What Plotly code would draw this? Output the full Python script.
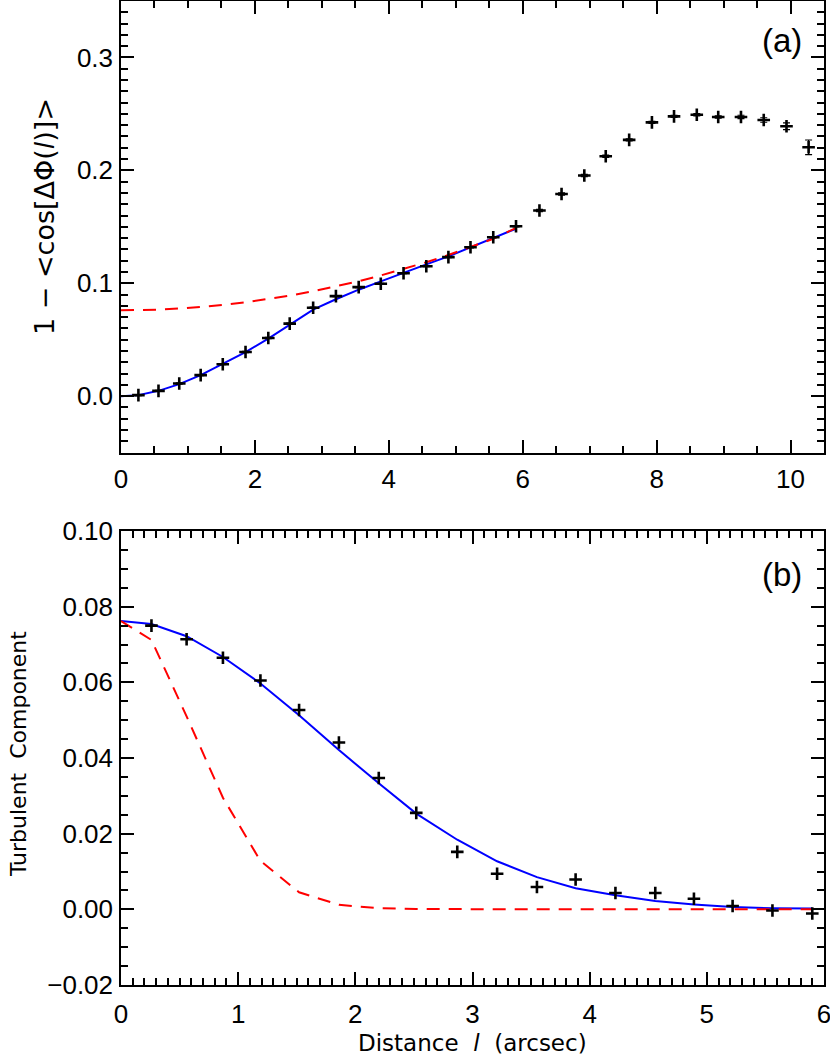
import plotly.graph_objects as go

# ---------------- data ----------------
# panel (a): structure function data points
x_a = [0.26, 0.56, 0.87, 1.19, 1.52, 1.86, 2.20, 2.52, 2.87, 3.21, 3.55, 3.88,
       4.22, 4.56, 4.89, 5.22, 5.56, 5.90, 6.25, 6.58, 6.92, 7.24, 7.59, 7.93,
       8.26, 8.60, 8.92, 9.26, 9.60, 9.94, 10.27]
y_a = [0.0009, 0.0047, 0.0112, 0.0186, 0.0283, 0.0391, 0.0515, 0.0642, 0.0783,
       0.0886, 0.0966, 0.0995, 0.1089, 0.1151, 0.1231, 0.1319, 0.1408, 0.1505,
       0.1645, 0.1790, 0.1954, 0.2125, 0.2270, 0.2425, 0.2478, 0.2493, 0.2473,
       0.2473, 0.2446, 0.2390, 0.2204]
err_a = [0.0005] * 18 + [0.001] * 9 + [0.0015, 0.002, 0.003, 0.0065]

# fit curves for panel (a)
fit_x = [0.0, 0.26, 0.56, 0.87, 1.19, 1.52, 1.86, 2.20, 2.52, 2.87, 3.21, 3.55,
         3.88, 4.22, 4.56, 4.89, 5.22, 5.56, 5.90]
blue_a = [0.0, 0.0009, 0.0047, 0.0106, 0.0186, 0.0283, 0.0390, 0.0510, 0.0634,
          0.0767, 0.0858, 0.0943, 0.1017, 0.1094, 0.1167, 0.1238, 0.1320, 0.1403,
          0.1483]
red_a = [0.0760, 0.0761, 0.0766, 0.0776, 0.0789, 0.0807, 0.0831, 0.0859, 0.0890,
         0.0929, 0.0971, 0.1018, 0.1069, 0.1125, 0.1186, 0.1250, 0.1319, 0.1394,
         0.1490]

# panel (b): turbulent component
x_b = x_a[:18]
y_b = [0.0750, 0.0714, 0.0665, 0.0605, 0.0527, 0.0441, 0.0347, 0.0255, 0.0152,
       0.0094, 0.0059, 0.0079, 0.0043, 0.0043, 0.0028, 0.0009, -0.0003, -0.0011]
blue_b = [0.0762, 0.0754, 0.0722, 0.0667, 0.0597, 0.0513, 0.0421, 0.0333, 0.0253,
          0.0184, 0.0127, 0.0085, 0.0056, 0.0037, 0.0022, 0.0013, 0.0006, 0.0003,
          0.0002]
red_b = [0.0762, 0.0712, 0.0510, 0.0295, 0.0128, 0.0045, 0.0012, 0.0003, 0.0001,
         0.0, 0.0, 0.0, 0.0, 0.0, 0.0, 0.0, 0.0, 0.0, 0.0]

# ---------------- figure ----------------
W, H = 830, 1057
ML, MR, MT, MB = 121, 6, 1, 72
PW, PH = W - ML - MR, H - MT - MB


def px(p):
    return (p - ML) / PW


def py(p):
    return (H - MB - p) / PH


RED = "#ff0000"
BLUE = "#0000ff"
dash = "13px,9px"
marker = dict(symbol="cross-thin", size=9, line=dict(width=2.6, color="black"),
              color="black")

fig = go.Figure()
# panel (a)
fig.add_trace(go.Scatter(x=fit_x, y=blue_a, mode="lines",
                         line=dict(color=BLUE, width=2), xaxis="x", yaxis="y"))
fig.add_trace(go.Scatter(x=fit_x, y=red_a, mode="lines",
                         line=dict(color=RED, width=2, dash=dash), xaxis="x", yaxis="y"))
fig.add_trace(go.Scatter(x=x_a, y=y_a, mode="markers", marker=marker,
                         error_y=dict(type="data", array=err_a, color="black",
                                      thickness=1.2, width=3.5),
                         xaxis="x", yaxis="y"))
# panel (b)
fig.add_trace(go.Scatter(x=fit_x, y=blue_b, mode="lines",
                         line=dict(color=BLUE, width=2), xaxis="x2", yaxis="y2"))
fig.add_trace(go.Scatter(x=fit_x, y=red_b, mode="lines",
                         line=dict(color=RED, width=2, dash=dash), xaxis="x2", yaxis="y2"))
fig.add_trace(go.Scatter(x=x_b, y=y_b, mode="markers", marker=marker,
                         xaxis="x2", yaxis="y2"))

tickfont = dict(family="Liberation Sans, Arial, sans-serif", size=26, color="black")
base = dict(showline=True, linecolor="black", linewidth=1.5, mirror="allticks",
            ticks="inside", ticklen=13, tickwidth=1.5, tickcolor="black",
            showgrid=False, zeroline=False, tickfont=tickfont, fixedrange=True,
            automargin=False, ticklabeloverflow="allow")


def minor(d):
    return dict(dtick=d, ticks="inside", ticklen=7, tickwidth=1.5,
                tickcolor="black", showgrid=False)


top_dom = [py(452.6), 1.0]
bot_dom = [0.0, py(531.0)]

fig.update_layout(
    width=W, height=H,
    margin=dict(l=ML, r=MR, t=MT, b=MB, autoexpand=False),
    paper_bgcolor="white", plot_bgcolor="white",
    showlegend=False,
    xaxis=dict(base, domain=[0, 1], range=[0, 10.5], dtick=2, tick0=0,
               minor=minor(0.5), anchor="y", ticklabelstandoff=2),
    yaxis=dict(base, domain=top_dom, range=[-0.05, 0.35], dtick=0.1, tick0=0,
               tickformat=".1f", minor=minor(0.01), anchor="x", ticklabelstandoff=1),
    xaxis2=dict(base, domain=[0, 1], range=[0, 6], dtick=1, tick0=0,
                minor=minor(0.1), anchor="y2", ticklabelstandoff=5),
    yaxis2=dict(base, domain=bot_dom, range=[-0.02, 0.10], dtick=0.02, tick0=0,
                tickformat=".2f", minor=minor(0.005), anchor="x2", ticklabelstandoff=1),
)

title_font = dict(family="DejaVu Sans, sans-serif", size=22, color="black")
ann = [
    dict(text="(a)", x=px(782), y=py(40), font=dict(family="Liberation Sans, Arial", size=33, color="black")),
    dict(text="(b)", x=px(782), y=py(574), font=dict(family="Liberation Sans, Arial", size=33, color="black")),
    dict(text="1 − &lt;cos[ΔΦ(<i>l</i>)]&gt;", x=px(45), y=py(217), textangle=-90,
         font=dict(family="DejaVu Sans, sans-serif", size=27, color="black")),
    dict(text="Turbulent  Component", x=px(18), y=py(754), textangle=-90,
         font=title_font),
    dict(text="Distance  <i>l</i>  (arcsec)", x=px(472), y=py(1043),
         font=dict(family="DejaVu Sans, sans-serif", size=23, color="black")),
]
for a in ann:
    a.update(xref="paper", yref="paper", showarrow=False,
             xanchor="center", yanchor="middle")
fig.update_layout(annotations=ann)

fig.write_html("out.html", config={"displayModeBar": False},
               post_script="document.body.style.margin='0';document.body.style.overflow='hidden';")
